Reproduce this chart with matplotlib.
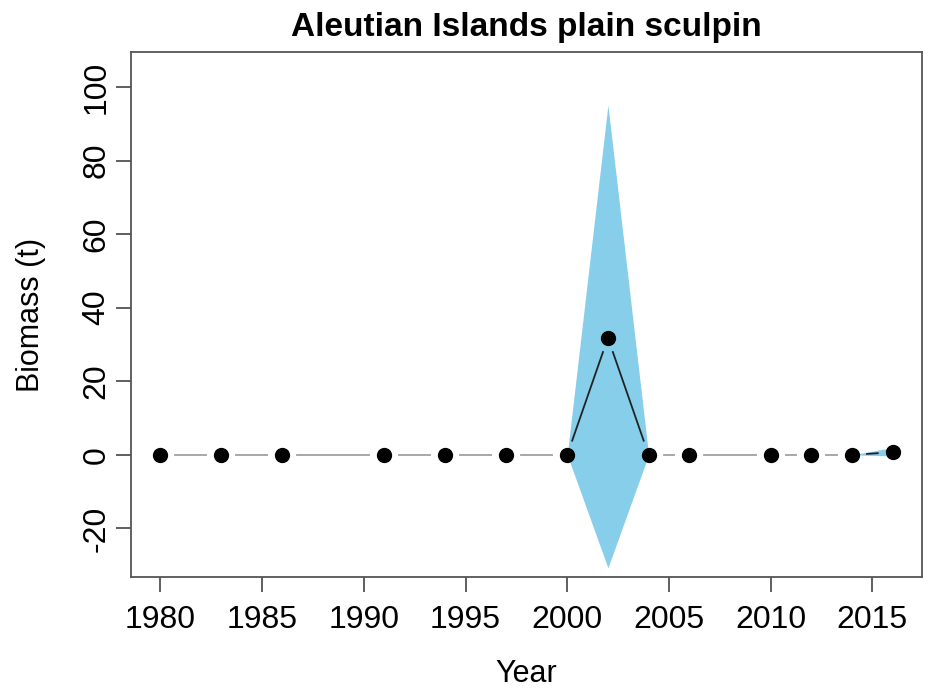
import matplotlib.pyplot as plt
import numpy as np

plt.rcParams['font.family'] = ['Liberation Sans', 'DejaVu Sans']

# survey years and biomass estimates (t)
years = [1980, 1983, 1986, 1991, 1994, 1997, 2000, 2002, 2004, 2006, 2010, 2012, 2014, 2016]
biomass = [0, 0, 0, 0, 0, 0, 0, 31.8, 0, 0, 0, 0, 0, 0.7]
ci_lower = [0, 0, 0, 0, 0, 0, 0, -30.7, 0, 0, 0, 0, 0, -0.3]
ci_upper = [0, 0, 0, 0, 0, 0, 0, 95.1, 0, 0, 0, 0, 0, 2.0]

fig = plt.figure(figsize=(9.34, 6.93), dpi=100)
ax = fig.add_axes([0.1403, 0.1674, 0.8469, 0.7576])
ax.set_xlim(1978.56, 2017.44)
ax.set_ylim(-33.2, 109.5)

# confidence band
ax.fill_between(years, ci_lower, ci_upper, color='skyblue', lw=0, zorder=1)

# R type="b": segments with a gap around each point
fig.canvas.draw()
pts = ax.transData.transform(np.column_stack([years, biomass]))
gap = 15
inv = ax.transData.inverted()
for i in range(len(years) - 1):
    p0, p1 = pts[i], pts[i + 1]
    d = p1 - p0
    L = np.hypot(*d)
    if L <= 2 * gap:
        continue
    u = d / L
    a = inv.transform(p0 + u * gap)
    b = inv.transform(p1 - u * gap)
    banded = (ci_upper[i] - ci_lower[i]) + (ci_upper[i + 1] - ci_lower[i + 1]) > 0
    col = '#222222' if banded else '#a0a0a0'
    ax.plot([a[0], b[0]], [a[1], b[1]], color=col, lw=1.3, zorder=2)

ax.plot(years, biomass, 'o', color='black', ms=10, zorder=3)

ax.set_xticks(range(1980, 2016, 5))
ax.set_yticks(range(-20, 101, 20))
ax.set_yticklabels([str(v) for v in range(-20, 101, 20)])
ax.tick_params(labelsize=23, length=11, width=1.2, color='#444444', direction='out')
ax.tick_params(axis='x', pad=9)
ax.tick_params(axis='y', pad=3)
for lab in ax.get_yticklabels():
    lab.set_rotation(90)
    lab.set_va('center')
for s in ax.spines.values():
    s.set_linewidth(1.3)
    s.set_color('#555555')

ax.set_xlabel('Year', fontsize=22)
ax.set_ylabel('Biomass (t)', fontsize=22)
ax.xaxis.set_label_coords(0.5, -0.156)
ax.yaxis.set_label_coords(-0.1075, 0.5)
ax.set_title('Aleutian Islands plain sculpin', fontsize=24, fontweight='bold', pad=11.5)

fig.savefig('out.png', dpi=100)
